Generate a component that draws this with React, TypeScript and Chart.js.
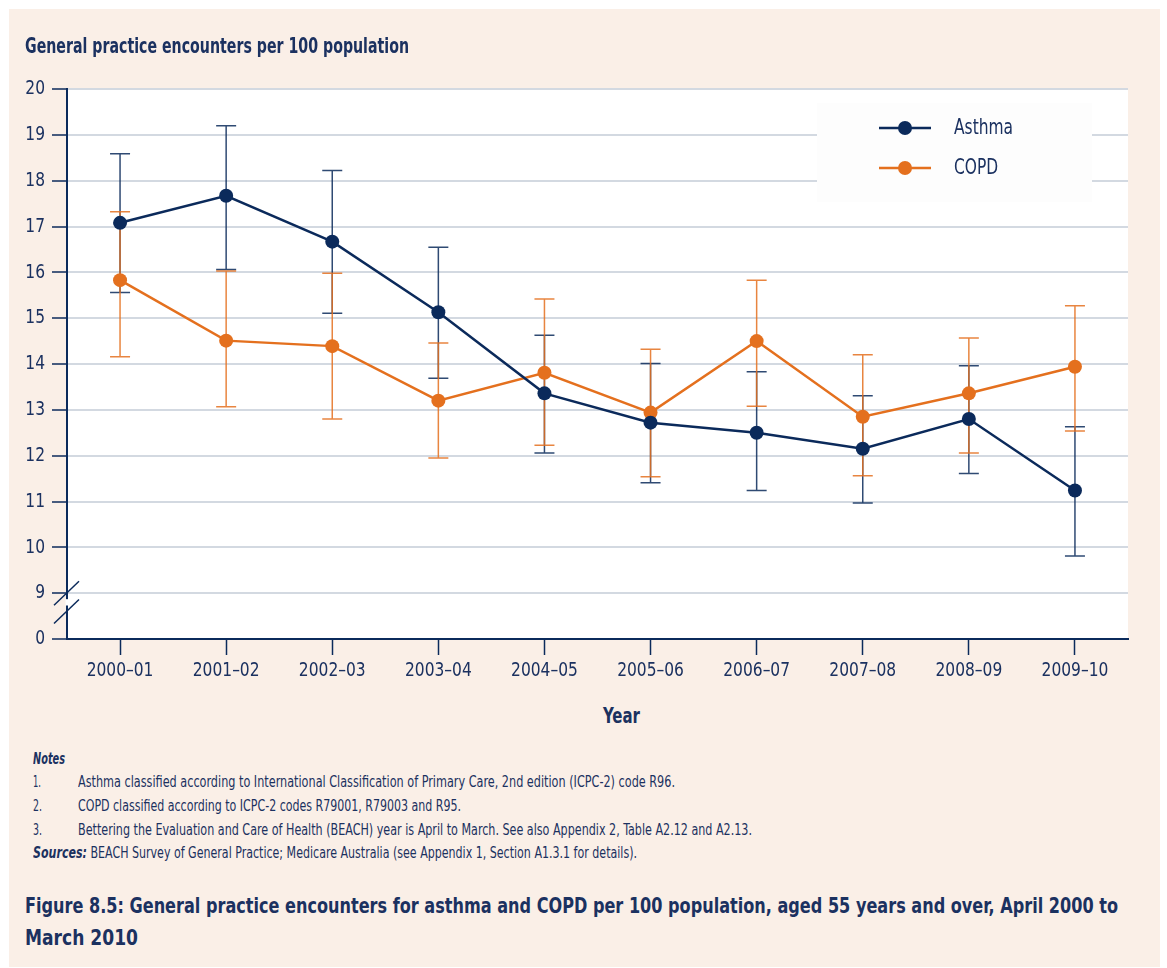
import React, { useEffect, useLayoutEffect, useRef } from "react";
import { Chart, registerables } from "chart.js";

Chart.register(...registerables);

const FONT = "'DejaVu Sans Condensed', 'Liberation Sans Narrow', 'Open Sans', sans-serif";
const NAVY = "#0B2A5B";
const ORANGE = "#E4701E";
const TEXT = "#1B3160";
const PEACH = "#FAEFE7";
const GRID = "#D3D9E1";

const years = ["2000–01", "2001–02", "2002–03", "2003–04", "2004–05", "2005–06", "2006–07", "2007–08", "2008–09", "2009–10"];
const asthma = [17.08, 17.67, 16.67, 15.13, 13.36, 12.72, 12.5, 12.15, 12.8, 11.24];
const asthmaUpper = [18.59, 19.2, 18.22, 16.55, 14.63, 14.01, 13.83, 13.31, 13.96, 12.63];
const asthmaLower = [15.56, 16.06, 15.11, 13.69, 12.06, 11.41, 11.24, 10.97, 11.61, 9.81];
const copd = [15.83, 14.51, 14.39, 13.2, 13.81, 12.94, 14.5, 12.85, 13.36, 13.94];
const copdUpper = [17.32, 16.03, 15.98, 14.46, 15.42, 14.32, 15.83, 14.2, 14.57, 15.27];
const copdLower = [14.16, 13.07, 12.8, 11.95, 12.23, 11.54, 13.08, 11.56, 12.06, 12.54];
const yTicks = [8, 9, 10, 11, 12, 13, 14, 15, 16, 17, 18, 19, 20];
const yTickLabel = (v: number) => (v === 8 ? "0" : String(v));

const errorBars = [
  { upper: asthmaUpper, lower: asthmaLower, color: "rgba(11,42,91,0.85)" },
  { upper: copdUpper, lower: copdLower, color: "rgba(228,112,30,0.85)" },
];

function drawText(ctx: any, text: string, x: number, y: number, align: string, size: number, sx: number) {
  ctx.save();
  ctx.font = `${size}px ${FONT}`;
  ctx.textBaseline = "middle";
  ctx.textAlign = align;
  ctx.fillStyle = TEXT;
  ctx.translate(x, y);
  ctx.scale(sx, 1);
  ctx.fillText(text, 0, 0);
  ctx.restore();
}

const bgPlugin = {
  id: "bg",
  beforeDraw(chart: any) {
    const { ctx, chartArea: a } = chart;
    ctx.save();
    ctx.fillStyle = "#FFFFFF";
    ctx.fillRect(a.left, a.top, a.right - a.left, a.bottom - a.top);
    ctx.restore();
  },
};

const errPlugin = {
  id: "err",
  beforeDatasetsDraw(chart: any) {
    const { ctx } = chart;
    const x = chart.scales.x;
    const y = chart.scales.y;
    ctx.save();
    ctx.lineWidth = 1.5;
    errorBars.forEach((eb) => {
      ctx.strokeStyle = eb.color;
      years.forEach((_, i) => {
        const px = x.getPixelForValue(i);
        const pu = y.getPixelForValue(eb.upper[i]);
        const pl = y.getPixelForValue(eb.lower[i]);
        ctx.beginPath();
        ctx.moveTo(px, pu);
        ctx.lineTo(px, pl);
        ctx.moveTo(px - 10, pu);
        ctx.lineTo(px + 10, pu);
        ctx.moveTo(px - 10, pl);
        ctx.lineTo(px + 10, pl);
        ctx.stroke();
      });
    });
    ctx.restore();
  },
};

const overlayPlugin = {
  id: "overlay",
  afterDraw(chart: any) {
    const { ctx } = chart;
    const x = chart.scales.x;
    const y = chart.scales.y;
    const ax = chart.chartArea.left;
    yTicks.forEach((v) => drawText(ctx, yTickLabel(v), ax - 22, y.getPixelForValue(v), "right", 20, 0.86));
    years.forEach((lab, i) => drawText(ctx, lab, x.getPixelForValue(i), chart.chartArea.bottom + 32, "center", 20, 0.86));
    const y1 = y.getPixelForValue(9);
    const y2 = y.getPixelForValue(8.6);
    ctx.save();
    ctx.strokeStyle = "#FFFFFF";
    ctx.lineWidth = 3;
    ctx.beginPath();
    ctx.moveTo(ax, y1 + 6);
    ctx.lineTo(ax, y2 - 6);
    ctx.stroke();
    ctx.strokeStyle = NAVY;
    ctx.lineWidth = 1.5;
    [y1, y2].forEach((c) => {
      ctx.beginPath();
      ctx.moveTo(ax - 13, c + 12);
      ctx.lineTo(ax + 12, c - 12);
      ctx.stroke();
    });
    ctx.fillStyle = "#FDFDFD";
    ctx.fillRect(817, 103, 275, 99);
    const items = chart.data.datasets;
    items.forEach((ds: any, i: number) => {
      const cy = 128 + i * 40;
      ctx.strokeStyle = ds.borderColor;
      ctx.lineWidth = 2.5;
      ctx.beginPath();
      ctx.moveTo(879, cy);
      ctx.lineTo(931, cy);
      ctx.stroke();
      ctx.fillStyle = ds.backgroundColor;
      ctx.beginPath();
      ctx.arc(905, cy, 7, 0, Math.PI * 2);
      ctx.fill();
      drawText(ctx, ds.label, 954, cy, "left", 21.5, 0.8);
    });
    ctx.restore();
  },
};

function ChartView() {
  const ref = useRef<HTMLCanvasElement>(null);
  useEffect(() => {
    if (!ref.current) return;
    const chart = new Chart(ref.current, {
      type: "line",
      data: {
        labels: years,
        datasets: [
          {
            label: "Asthma",
            data: asthma,
            borderColor: NAVY,
            backgroundColor: NAVY,
            borderWidth: 2.5,
            pointRadius: 7,
            pointHoverRadius: 7,
            pointBorderWidth: 0,
            tension: 0,
          },
          {
            label: "COPD",
            data: copd,
            borderColor: ORANGE,
            backgroundColor: ORANGE,
            borderWidth: 2.5,
            pointRadius: 7,
            pointHoverRadius: 7,
            pointBorderWidth: 0,
            tension: 0,
          },
        ],
      },
      options: {
        animation: false,
        responsive: false,
        events: [],
        layout: { padding: { top: 89, right: 39, left: 0, bottom: 0 } },
        plugins: { legend: { display: false }, tooltip: { enabled: false } },
        scales: {
          x: {
            type: "category",
            offset: true,
            afterFit: (s: any) => {
              s.height = 61;
            },
            grid: {
              offset: false,
              drawOnChartArea: false,
              drawTicks: true,
              tickLength: 16,
              tickColor: NAVY,
              tickWidth: 1.5,
            },
            border: { color: NAVY, width: 2 },
            ticks: { display: false },
          },
          y: {
            min: 8,
            max: 20,
            afterFit: (s: any) => {
              s.width = 67;
            },
            afterBuildTicks: (s: any) => {
              s.ticks = yTicks.map((v) => ({ value: v }));
            },
            grid: {
              color: (c: any) => (c.tick && c.tick.value === 8 ? "rgba(0,0,0,0)" : GRID),
              lineWidth: 2,
              drawTicks: true,
              tickLength: 15,
              tickColor: NAVY,
              tickWidth: 1.5,
            },
            border: { color: NAVY, width: 2 },
            ticks: { display: false },
          },
        },
      },
      plugins: [bgPlugin, errPlugin, overlayPlugin],
    });
    return () => chart.destroy();
  }, []);
  return <canvas ref={ref} width={1167} height={700} style={{ position: "absolute", left: 0, top: 0 }} />;
}

function Fit(props: { left: number; top: number; width: number; style?: React.CSSProperties; children: React.ReactNode }) {
  const ref = useRef<HTMLDivElement>(null);
  useLayoutEffect(() => {
    const el = ref.current;
    if (!el) return;
    el.style.transform = "none";
    const w = el.getBoundingClientRect().width;
    if (w > 0) el.style.transform = `scaleX(${props.width / w})`;
  }, []);
  return (
    <div
      ref={ref}
      style={{
        position: "absolute",
        left: props.left,
        top: props.top,
        transformOrigin: "left top",
        whiteSpace: "nowrap",
        fontFamily: FONT,
        color: TEXT,
        ...props.style,
      }}
    >
      {props.children}
    </div>
  );
}

export default function App() {
  const note: React.CSSProperties = { fontSize: 16, lineHeight: "18px" };
  const big: React.CSSProperties = { fontSize: 21.5, fontWeight: "bold", lineHeight: "26px" };
  return (
    <div style={{ position: "absolute", left: 0, top: 0, width: 1167, height: 968, background: "#FFFFFF" }}>
      <div style={{ position: "absolute", left: 9, top: 9, width: 1151, height: 958, background: PEACH }} />
      <ChartView />
      <Fit left={25} top={33} width={384} style={big}>General practice encounters per 100 population</Fit>
      <Fit left={603} top={703} width={37} style={big}>Year</Fit>
      <Fit left={33} top={750} width={32} style={{ ...note, fontWeight: "bold", fontStyle: "italic" }}>Notes</Fit>
      <Fit left={33} top={773} width={8} style={note}>1.</Fit>
      <Fit left={78} top={773} width={597} style={note}>Asthma classified according to International Classification of Primary Care, 2nd edition (ICPC-2) code R96.</Fit>
      <Fit left={33} top={797} width={9} style={note}>2.</Fit>
      <Fit left={78} top={797} width={383} style={note}>COPD classified according to ICPC-2 codes R79001, R79003 and R95.</Fit>
      <Fit left={33} top={821} width={9} style={note}>3.</Fit>
      <Fit left={78} top={821} width={674} style={note}>Bettering the Evaluation and Care of Health (BEACH) year is April to March. See also Appendix 2, Table A2.12 and A2.13.</Fit>
      <Fit left={33} top={844} width={604} style={note}>
        <b><i>Sources:</i></b> BEACH Survey of General Practice; Medicare Australia (see Appendix 1, Section A1.3.1 for details).
      </Fit>
      <Fit left={25} top={893} width={1093} style={big}>
        Figure 8.5: General practice encounters for asthma and COPD per 100 population, aged 55 years and over, April 2000 to
      </Fit>
      <Fit left={25} top={925} width={113} style={big}>March 2010</Fit>
    </div>
  );
}
